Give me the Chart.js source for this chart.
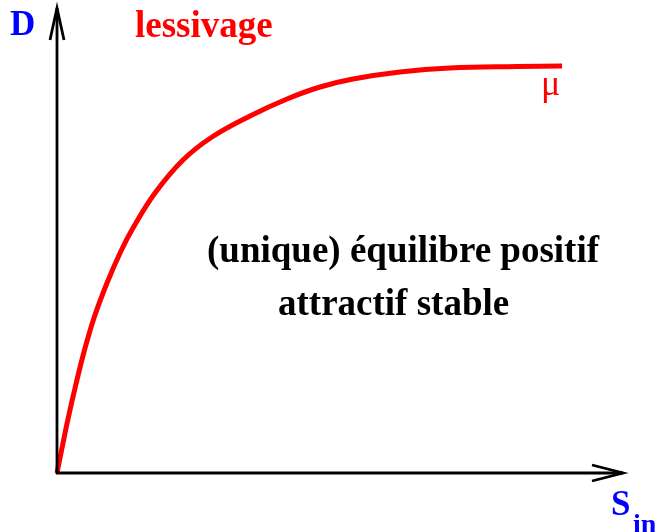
<!DOCTYPE html>
<html>
<head>
<meta charset="utf-8">
<style>
  html, body { margin: 0; padding: 0; background: #fff; }
  canvas { display: block; }
</style>
<script src="https://cdn.jsdelivr.net/npm/chart.js@4/dist/chart.umd.min.js"></script>
</head>
<body>
<canvas id="chart" width="659" height="532"></canvas>
<script>
// curve (S_in along x, D along y, arbitrary units)
const sinValues = [0, 5, 11, 19, 27, 37, 50, 64, 76, 98, 126, 155, 193, 230, 263, 296, 343, 393, 460, 505];
const dValues   = [0, 25, 54, 89, 121, 155, 190, 222, 245, 280, 313, 336, 357, 374, 386, 394, 401, 405, 406.5, 407];

const xMax = 566;
const yMax = 465;

const points = sinValues.map((x, i) => ({ x, y: dValues[i] }));

// axes with arrows + the labels
const decorations = {
  id: 'decorations',
  afterDraw(chart) {
    const { ctx, chartArea: a } = chart;
    ctx.save();
    ctx.strokeStyle = '#000';
    ctx.lineWidth = 2.8;
    ctx.lineCap = 'butt';

    // y axis
    ctx.beginPath();
    ctx.moveTo(a.left, a.bottom + 1);
    ctx.lineTo(a.left, a.top);
    ctx.stroke();
    ctx.beginPath();
    ctx.moveTo(a.left - 7, a.top + 32);
    ctx.lineTo(a.left, a.top);
    ctx.lineTo(a.left + 7, a.top + 32);
    ctx.stroke();

    // x axis
    ctx.beginPath();
    ctx.moveTo(a.left - 1, a.bottom);
    ctx.lineTo(a.right, a.bottom);
    ctx.stroke();
    ctx.beginPath();
    ctx.moveTo(a.right - 31, a.bottom - 8);
    ctx.lineTo(a.right, a.bottom);
    ctx.lineTo(a.right - 31, a.bottom + 8);
    ctx.stroke();

    ctx.textBaseline = 'alphabetic';
    ctx.textAlign = 'left';

    ctx.fillStyle = '#0000ff';
    ctx.font = 'bold 35px "Liberation Serif", serif';
    ctx.fillText('D', 10, 35);
    ctx.fillText('S', 611, 515);
    ctx.font = 'bold 28px "Liberation Serif", serif';
    ctx.fillText('in', 633, 533);

    ctx.fillStyle = '#ff0000';
    ctx.font = 'bold 37px "Liberation Serif", serif';
    ctx.fillText('lessivage', 135, 37);
    ctx.font = '36px "Liberation Serif", serif';
    ctx.fillText('\u03bc', 541, 95);

    ctx.fillStyle = '#000';
    ctx.font = 'bold 37px "Liberation Serif", serif';
    ctx.fillText('(unique) \u00e9quilibre positif', 207, 262);
    ctx.fillText('attractif stable', 278, 315);
    ctx.restore();
  }
};

new Chart(document.getElementById('chart'), {
  type: 'scatter',
  data: {
    datasets: [{
      data: points,
      showLine: true,
      borderColor: '#ff0000',
      borderWidth: 5,
      pointRadius: 0,
      tension: 0.4,
      clip: false
    }]
  },
  options: {
    responsive: false,
    animation: false,
    layout: { padding: { left: 57, top: 8, right: 36, bottom: 59 } },
    plugins: { legend: { display: false }, tooltip: { enabled: false } },
    scales: {
      x: { type: 'linear', min: 0, max: xMax, display: false },
      y: { type: 'linear', min: 0, max: yMax, display: false }
    }
  },
  plugins: [decorations]
});
</script>
</body>
</html>
